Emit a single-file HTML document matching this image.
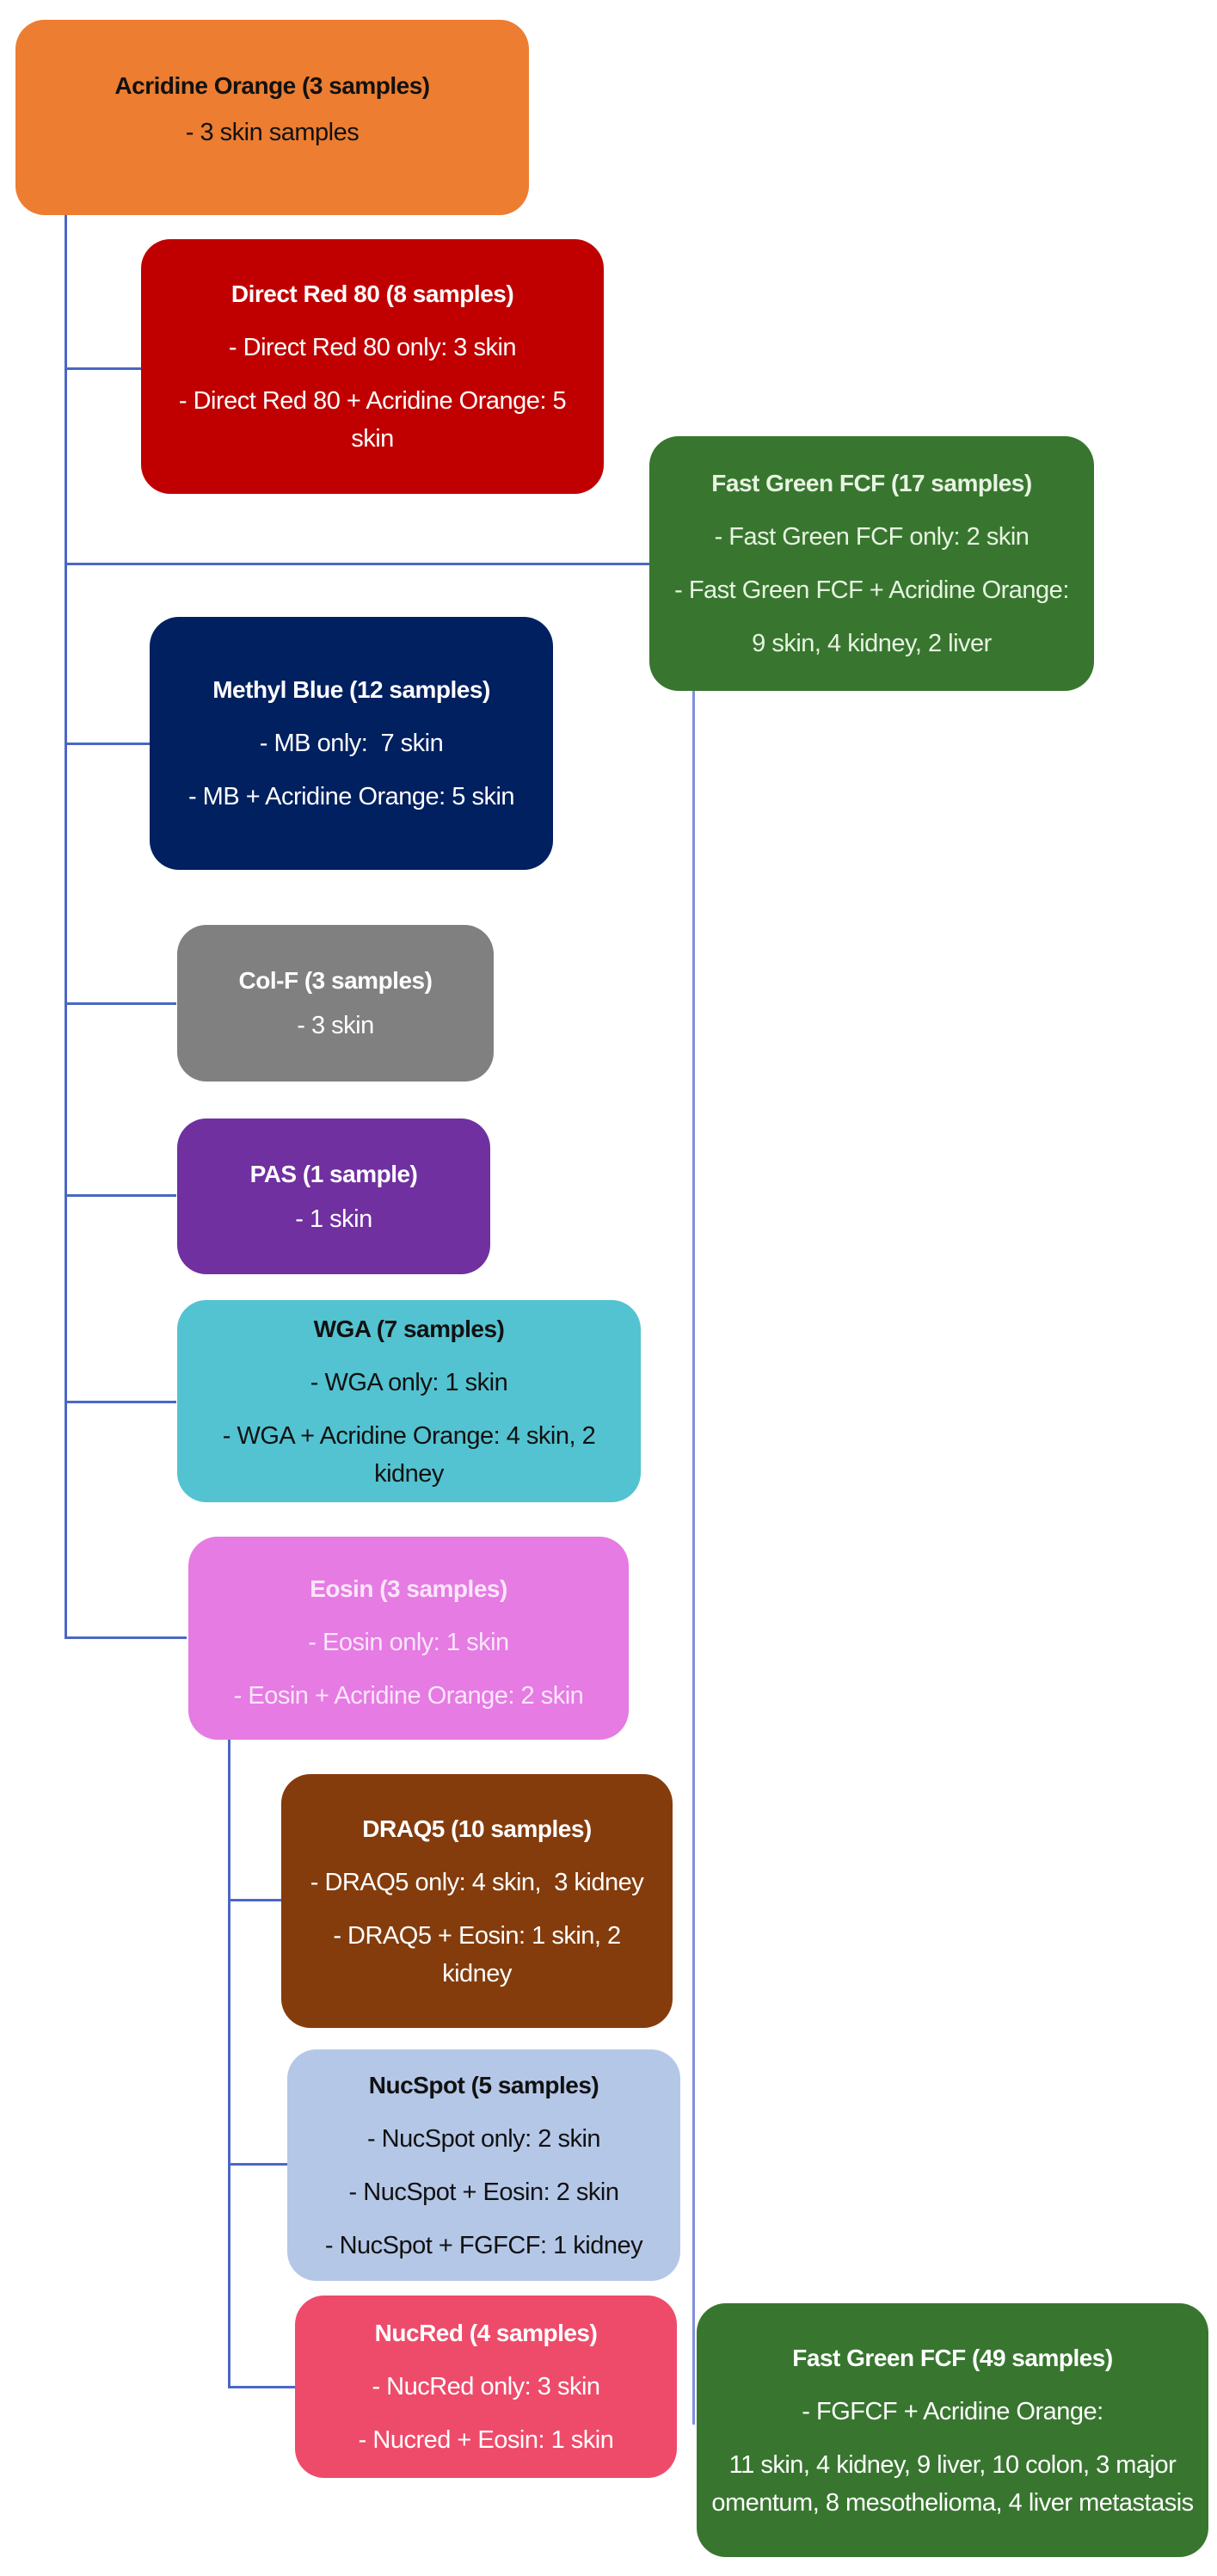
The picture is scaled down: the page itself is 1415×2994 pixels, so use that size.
<!DOCTYPE html>
<html><head><meta charset="utf-8"><style>
body{margin:0;width:1415px;height:2994px;background:#fff;position:relative;overflow:hidden;font-family:"Liberation Sans",sans-serif;}
.b{position:absolute;border-radius:34px;display:flex;flex-direction:column;justify-content:center;align-items:center;text-align:center;box-sizing:border-box;padding:0 18px;color:#fff;font-size:29px;line-height:44px;letter-spacing:-0.5px}
.b .t{font-weight:bold;font-size:28px;margin-bottom:18px}
.b p{margin:0 0 18px 0}
.b p:last-child{margin-bottom:0}
.l{position:absolute;background:#4a68c4}
</style></head><body>
<!-- connectors -->
<div class="l" style="left:75px;top:250px;width:3px;height:1655px"></div>
<div class="l" style="left:75px;top:427px;width:90px;height:3px"></div>
<div class="l" style="left:75px;top:654px;width:682px;height:3px"></div>
<div class="l" style="left:75px;top:863px;width:100px;height:3px"></div>
<div class="l" style="left:75px;top:1165px;width:130px;height:3px"></div>
<div class="l" style="left:75px;top:1388px;width:130px;height:3px"></div>
<div class="l" style="left:75px;top:1628px;width:130px;height:3px"></div>
<div class="l" style="left:75px;top:1902px;width:142px;height:3px"></div>
<div class="l" style="left:805px;top:803px;width:3px;height:2015px;background:#7f8fe0"></div>
<div class="l" style="left:265px;top:2020px;width:3px;height:756px"></div>
<div class="l" style="left:265px;top:2207px;width:63px;height:3px"></div>
<div class="l" style="left:265px;top:2514px;width:70px;height:3px"></div>
<div class="l" style="left:265px;top:2773px;width:79px;height:3px"></div>

<div class="b" style="left:18px;top:23px;width:597px;height:227px;background:#ED7D31;color:#111;padding-bottom:20px"><div class="t" style="margin-bottom:10px">Acridine Orange (3 samples)</div><p>- 3 skin samples</p></div>

<div class="b" style="left:164px;top:278px;width:538px;height:296px;background:#C00000"><div class="t">Direct Red 80 (8 samples)</div><p>- Direct Red 80 only: 3 skin</p><p>- Direct Red 80 + Acridine Orange: 5 skin</p></div>

<div class="b" style="left:755px;top:507px;width:517px;height:296px;background:#38762F;color:#e8f4e2"><div class="t">Fast Green FCF (17 samples)</div><p>- Fast Green FCF only: 2 skin</p><p>- Fast Green FCF + Acridine Orange:</p><p>9 skin, 4 kidney, 2 liver</p></div>

<div class="b" style="left:174px;top:717px;width:469px;height:294px;background:#002060"><div class="t">Methyl Blue (12 samples)</div><p>- MB only:&nbsp; 7 skin</p><p>- MB + Acridine Orange: 5 skin</p></div>

<div class="b" style="left:206px;top:1075px;width:368px;height:182px;background:#808080"><div class="t" style="margin-bottom:8px">Col-F (3 samples)</div><p>- 3 skin</p></div>

<div class="b" style="left:206px;top:1300px;width:364px;height:181px;background:#7030A0"><div class="t" style="margin-bottom:8px">PAS (1 sample)</div><p>- 1 skin</p></div>

<div class="b" style="left:206px;top:1511px;width:539px;height:235px;background:#53C3D1;color:#111"><div class="t">WGA (7 samples)</div><p>- WGA only: 1 skin</p><p>- WGA + Acridine Orange: 4 skin, 2 kidney</p></div>

<div class="b" style="left:219px;top:1786px;width:512px;height:236px;background:#E57BE3;color:#fbe6fa;padding-top:10px"><div class="t">Eosin (3 samples)</div><p>- Eosin only: 1 skin</p><p>- Eosin + Acridine Orange: 2 skin</p></div>

<div class="b" style="left:327px;top:2062px;width:455px;height:295px;background:#843C0C;padding:0 30px"><div class="t">DRAQ5 (10 samples)</div><p>- DRAQ5 only: 4 skin,&nbsp; 3 kidney</p><p>- DRAQ5 + Eosin: 1 skin, 2 kidney</p></div>

<div class="b" style="left:334px;top:2382px;width:457px;height:269px;background:#B4C7E7;color:#111;padding:0 6px"><div class="t">NucSpot (5 samples)</div><p>- NucSpot only: 2 skin</p><p>- NucSpot + Eosin: 2 skin</p><p>- NucSpot + FGFCF: 1 kidney</p></div>

<div class="b" style="left:343px;top:2668px;width:444px;height:212px;background:#EE4B6A"><div class="t">NucRed (4 samples)</div><p>- NucRed only: 3 skin</p><p>- Nucred + Eosin: 1 skin</p></div>

<div class="b" style="left:810px;top:2677px;width:595px;height:295px;background:#38762F;padding:0 10px"><div class="t">Fast Green FCF (49 samples)</div><p>- FGFCF + Acridine Orange:</p><p>11 skin, 4 kidney, 9 liver, 10 colon, 3 major omentum, 8 mesothelioma, 4 liver metastasis</p></div>
</body></html>
